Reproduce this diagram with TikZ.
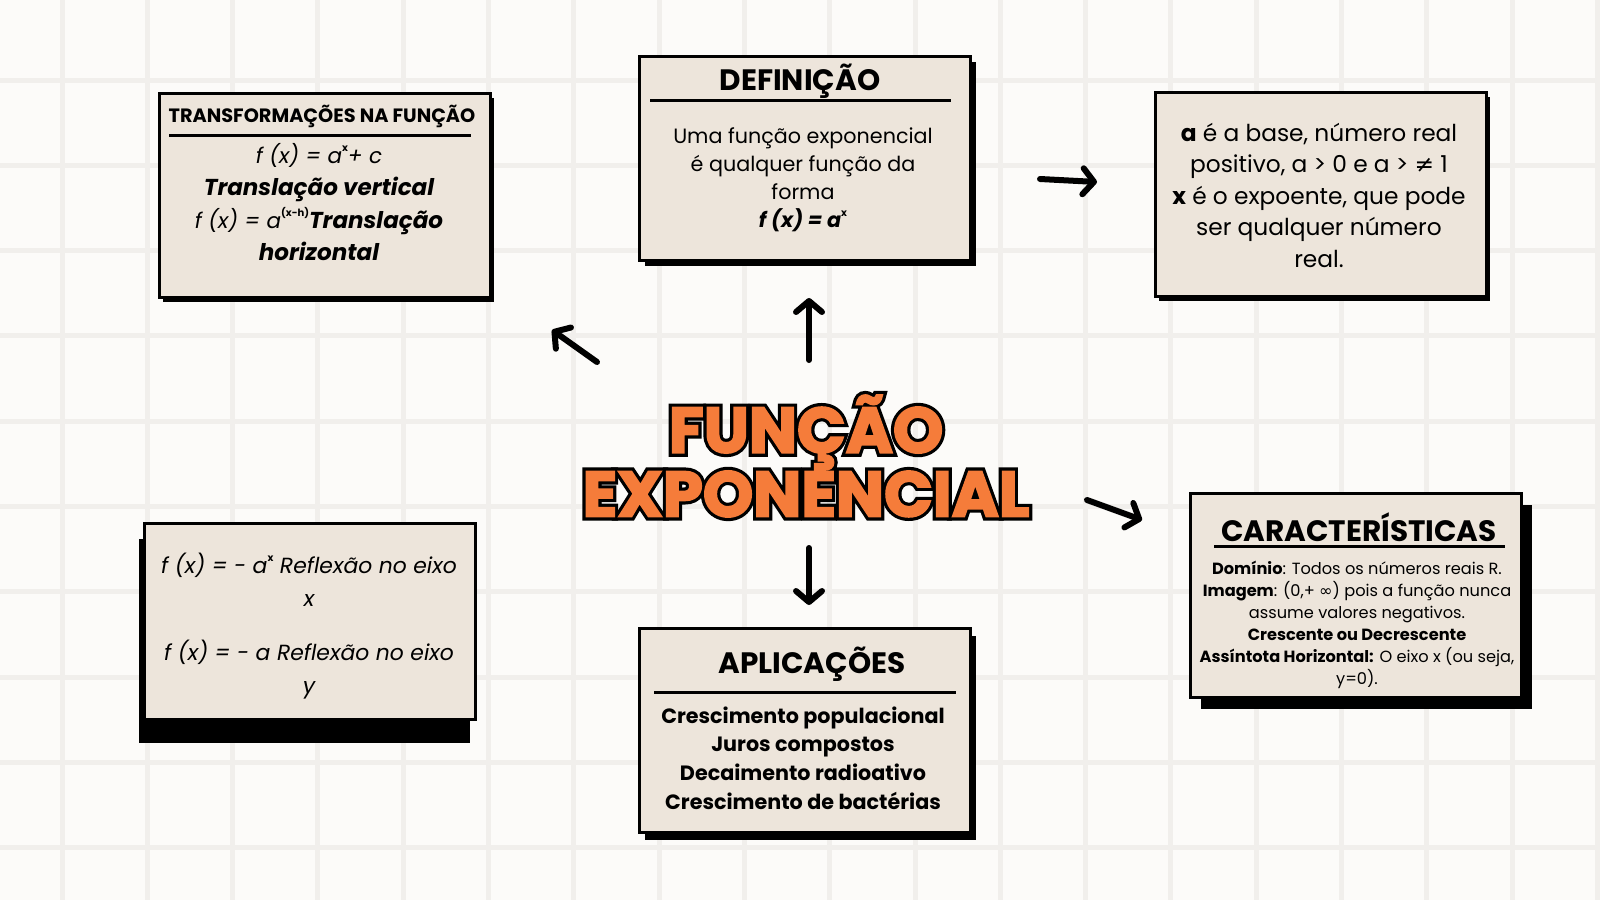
\documentclass[tikz,border=0pt]{standalone}
\usepackage{fontspec}
\setmainfont{Poppins}
\newfontfamily\symbolfont{DejaVu Sans}
\newfontfamily\titlefont{Poppins}[BoldFeatures = {FakeBold = 3}]
\newfontfamily\outlinefont{Poppins}[BoldFeatures = {FakeBold = 13}]
\usetikzlibrary{arrows.meta}

\definecolor{paper}{RGB}{252,251,249}
\definecolor{gridgray}{RGB}{241,239,236}
\definecolor{boxfill}{RGB}{237,229,219}
\definecolor{titleorange}{RGB}{245,124,58}
\newcommand{\supr}[1]{\raisebox{0.55em}{\fontsize{10}{10}\selectfont\bfseries\upshape #1}}

\begin{document}
\begin{tikzpicture}
  [x = 1pt, y = -1pt,
   gridline/.style = {gridgray, line width = 5},
   cardshadow/.style = {fill = black, minimum width = 331, minimum height = 204, anchor = north west, inner sep = 0},
   card/.style = {draw = black, line width = 3, fill = boxfill, minimum width = 331, minimum height = 204, anchor = north west, inner sep = 0},
   heading/.style = {font = \bfseries\fontsize{29.5}{32}\selectfont},
   headrule/.style = {line width = 3},
   body/.style = {align = center, inner sep = 0},
   pointer/.style = {line width = 6, line cap = round, -{Straight Barb[length = 11pt, width = 26pt, line join = round, line cap = round]}},
   title/.style = {font = \titlefont\bfseries\fontsize{64}{54}\selectfont, text = titleorange, align = center, inner sep = 0},
   titleoutline/.style = {title, font = \outlinefont\bfseries\fontsize{64}{54}\selectfont, text = black}]

% Background
\fill[paper] (0,0) rectangle (1600,900);
\useasboundingbox (0,0) rectangle (1600,900);
\foreach \i in {0,...,18}
  \draw[gridline] ({62+85.3*\i},0) -- ({62+85.3*\i},900);
\foreach \j in {0,...,9}
  \draw[gridline] (0,{80+85.3*\j}) -- (1600,{80+85.3*\j});

% Transformations
\node[cardshadow] (transShadow) at (163,98) {};
\node[card] (trans) at (158,92) {};
\node[heading, font = \bfseries\fontsize{19.3}{22}\selectfont] (transHead) at (322,116) {TRANSFORMAÇÕES NA FUNÇÃO};
\draw[headrule] (169,135) -- (471,135);
\node[body, font = \fontsize{21.5}{32.6}\selectfont] (transText) at (319,202)
  {{\itshape f (x) = a\supr{x}+ c}\\
   {\bfseries\itshape\fontsize{23}{32.6}\selectfont Translação vertical}\\
   {\itshape f (x) = a\supr{(x-h)}}{\bfseries\itshape\fontsize{23}{32.6}\selectfont Translação}\\
   {\bfseries\itshape\fontsize{23}{32.6}\selectfont horizontal}};

% Definition
\node[cardshadow] (defShadow) at (645,62) {};
\node[card] (def) at (638,55) {};
\node[heading] (defHead) at (800,81) {DEFINIÇÃO};
\draw[headrule] (650,100) -- (951,100);
\node[body, font = \fontsize{20.7}{28}\selectfont] (defText) at (803,180)
  {Uma função exponencial\\
   é qualquer função da\\
   forma\\
   {\bfseries\itshape f (x) = a\supr{x}}};

% Base and exponent
\node[cardshadow] (infoShadow) at (1159,97) {};
\node[card] (info) at (1154,91) {};
\node[body, font = \fontsize{23.3}{31.5}\selectfont] (infoText) at (1319,195)
  {{\bfseries a} é a base, número real\\
   positivo, a > 0 e a > {\symbolfont ≠} 1\\
   {\bfseries x} é o expoente, que pode\\
   ser qualquer número\\
   real.};

% Characteristics
\node[cardshadow] (caractShadow) at (1201,505) {};
\node[card] (caract) at (1189,492) {};
\node[heading] (caractHead) at (1359,527) {CARACTERÍSTICAS};
\draw[headrule] (1214,546) -- (1505,546);
\node[body, font = \fontsize{16.2}{22}\selectfont] (caractText) at (1357,625)
  {{\bfseries Domínio}: Todos os números reais R.\\
   {\bfseries Imagem}: (0,+ {\symbolfont ∞}) pois a função nunca\\
   assume valores negativos.\\
   {\bfseries Crescente ou Decrescente}\\
   {\bfseries Assíntota Horizontal:} O eixo x (ou seja,\\
   y=0).};

% Reflections
\node[cardshadow] (reflexShadow) at (139,539) {};
\node[card, minimum height = 196] (reflex) at (143,522) {};
\node[body, font = \itshape\fontsize{21.9}{32.6}\selectfont] (reflexText) at (309,626)
  {f (x) = - a\supr{x} Reflexão no eixo\\
   x\\[22pt]
   f (x) = - a Reflexão no eixo\\
   y};

% Applications
\node[cardshadow] (aplicShadow) at (645,636) {};
\node[card] (aplic) at (638,627) {};
\node[heading] (aplicHead) at (812,664) {APLICAÇÕES};
\draw[headrule] (654,692) -- (956,692);
\node[body, font = \bfseries\fontsize{20.7}{28.7}\selectfont] (aplicText) at (803,758)
  {Crescimento populacional\\
   Juros compostos\\
   Decaimento radioativo\\
   Crescimento de bactérias};

% Title
\node[titleoutline] (titleOutline) at (806,456) {FUNÇÃO\\EXPONENCIAL};
\node[title] (title) at (806,456) {FUNÇÃO\\EXPONENCIAL};

% Arrows
\coordinate (upTail) at (809,360);
\coordinate (upTip) at (809,298);
\coordinate (nwTail) at (597,362);
\coordinate (nwTip) at (552,330);
\coordinate (rightTail) at (1040,179);
\coordinate (rightTip) at (1097,182);
\coordinate (downTail) at (809,548);
\coordinate (downTip) at (809,605);
\coordinate (seTail) at (1087,500);
\coordinate (seTip) at (1142,520);
\draw[pointer] (upTail) -- (upTip);
\draw[pointer] (nwTail) -- (nwTip);
\draw[pointer] (rightTail) -- (rightTip);
\draw[pointer] (downTail) -- (downTip);
\draw[pointer] (seTail) -- (seTip);

\end{tikzpicture}
\end{document}
